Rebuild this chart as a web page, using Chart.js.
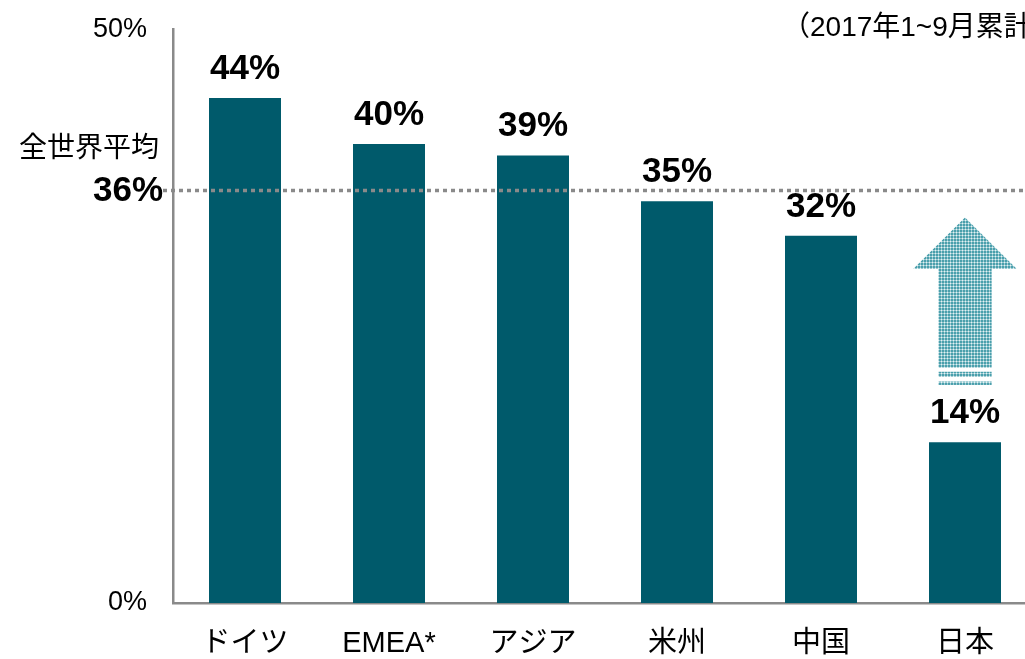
<!DOCTYPE html>
<html>
<head>
<meta charset="utf-8">
<script src="https://cdn.jsdelivr.net/npm/chart.js@4"></script>
<style>
    html, body { margin: 0; padding: 0; background: #fff; }
    #wrap { width: 1025px; height: 659px; overflow: hidden; position: relative; }
    #wrap canvas { position: absolute; left: 0; top: -13px; }
</style>
</head>
<body>
<div id="wrap"><canvas id="chart" width="1040" height="672"></canvas></div>
<script>
// Datos del gráfico
var categories = ['ドイツ', 'EMEA*', 'アジア', '米州', '中国', '日本'];
var values = [44, 40, 39, 35, 32, 14];
var yTicks = [0, 50];
var averageLabel = '全世界平均';
var averageValue = 36;
var noteText = '（2017年1~9月累計）';

var FONT = "'Liberation Sans', Arial, 'Noto Sans CJK JP', sans-serif";
var BAR_COLOR = '#005a6b';

// Patrón punteado para la flecha
function makePattern(ctx) {
    var p = document.createElement('canvas');
    p.width = 3; p.height = 3;
    var pc = p.getContext('2d');
    pc.fillStyle = '#e6f2f4';
    pc.fillRect(0, 0, 3, 3);
    pc.fillStyle = '#4a9fac';
    pc.fillRect(0, 0, 2, 2);
    pc.fillStyle = '#9ccbd2';
    pc.fillRect(2, 0, 1, 2);
    pc.fillRect(0, 2, 2, 1);
    return ctx.createPattern(p, 'repeat');
}

var extrasPlugin = {
    id: 'extras',
    afterDatasetsDraw: function(chart) {
        var ctx = chart.ctx;
        var x = chart.scales.x, y = chart.scales.y;
        var area = chart.chartArea;
        var meta = chart.getDatasetMeta(0);

        ctx.save();
        // Línea de promedio
        var ya = Math.round(y.getPixelForValue(averageValue)) + 0.5;
        ctx.strokeStyle = '#8a8a8a';
        ctx.lineWidth = 3.5;
        ctx.setLineDash([4, 4]);
        ctx.beginPath();
        ctx.moveTo(area.left - 10, ya);
        ctx.lineTo(chart.width, ya);
        ctx.stroke();
        ctx.setLineDash([]);

        // Etiquetas de valores
        ctx.fillStyle = '#000';
        ctx.font = 'bold 35px ' + FONT;
        ctx.textAlign = 'center';
        ctx.textBaseline = 'alphabetic';
        meta.data.forEach(function(bar, i) {
            ctx.fillText(values[i] + '%', bar.x, bar.y - 19);
        });

        // Etiqueta del promedio
        ctx.textAlign = 'right';
        ctx.textBaseline = 'middle';
        ctx.fillText(averageValue + '%', area.left - 10, ya + 1);
        ctx.font = '28px ' + FONT;
        ctx.fillText(averageLabel, area.left - 14, y.getPixelForValue(39.5));

        // Nota superior
        ctx.textAlign = 'left';
        ctx.font = '28px ' + FONT;
        ctx.fillText(noteText, 782, area.top - 1);

        // Flecha hacia arriba sobre 日本
        var cx = x.getPixelForValue(5);
        var cw = x.getPixelForValue(1) - x.getPixelForValue(0);
        var headHalf = cw * 0.36, shaftHalf = cw * 0.185;
        var tip = y.getPixelForValue(33.6), base = y.getPixelForValue(29.1), bottom = y.getPixelForValue(20.5);
        ctx.fillStyle = makePattern(ctx);
        ctx.beginPath();
        ctx.moveTo(cx, tip);
        ctx.lineTo(cx + headHalf, base);
        ctx.lineTo(cx + shaftHalf, base);
        ctx.lineTo(cx + shaftHalf, bottom);
        ctx.lineTo(cx - shaftHalf, bottom);
        ctx.lineTo(cx - shaftHalf, base);
        ctx.lineTo(cx - headHalf, base);
        ctx.closePath();
        ctx.fill();
        [[20.15, 19.7], [19.3, 19.0]].forEach(function(s) {
            var t = y.getPixelForValue(s[0]), b = y.getPixelForValue(s[1]);
            ctx.fillRect(cx - shaftHalf, t, shaftHalf * 2, b - t);
        });
        ctx.restore();
    }
};

new Chart(document.getElementById('chart'), {
    type: 'bar',
    data: {
        labels: categories,
        datasets: [{
            data: values,
            backgroundColor: BAR_COLOR,
            borderWidth: 0,
            categoryPercentage: 1,
            barPercentage: 0.5
        }]
    },
    options: {
        responsive: false,
        animation: false,
        layout: { padding: { top: 14, right: 3, left: 0, bottom: 0 } },
        plugins: { legend: { display: false }, tooltip: { enabled: false } },
        scales: {
            x: {
                grid: { display: false, drawTicks: false },
                border: { color: '#8a8a8a', width: 2.5 },
                ticks: { color: '#000', font: { family: FONT, size: 29 }, padding: 24, maxRotation: 0 },
                afterFit: function(s) { s.height = 56; }
            },
            y: {
                min: 0,
                max: 50,
                afterBuildTicks: function(s) { s.ticks = yTicks.map(function(v) { return { value: v }; }); },
                grid: { display: false, drawTicks: false },
                border: { color: '#8a8a8a', width: 2.5 },
                ticks: {
                    color: '#000',
                    font: { family: FONT, size: 27 },
                    padding: 26,
                    callback: function(v) { return v + '%'; }
                },
                afterFit: function(s) { s.width = 173; }
            }
        }
    },
    plugins: [extrasPlugin]
});
</script>
</body>
</html>
